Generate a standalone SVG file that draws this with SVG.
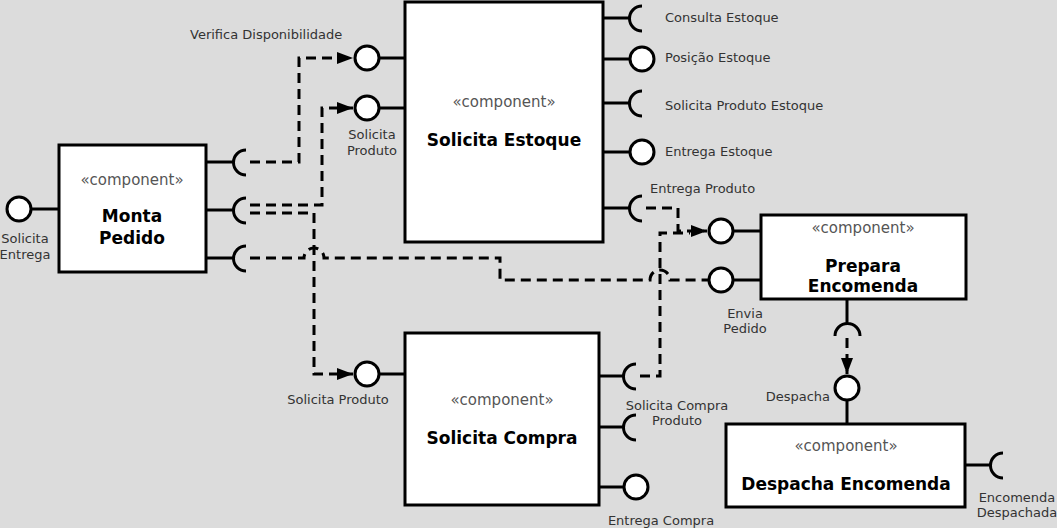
<svg xmlns="http://www.w3.org/2000/svg" width="1057" height="528" viewBox="0 0 1057 528">
<style>
.bg{fill:#dcdcdc}
.box{fill:#fff;stroke:#000;stroke-width:3}
.ln{fill:none;stroke:#000;stroke-width:3}
.lol{fill:#fff;stroke:#000;stroke-width:3}
.dash{fill:none;stroke:#000;stroke-width:3;stroke-dasharray:10 6}
.st{font-family:"DejaVu Sans",Verdana,sans-serif;font-size:15px;fill:#555;text-anchor:middle}
.tt{font-family:"DejaVu Sans",Verdana,sans-serif;font-size:17px;font-weight:bold;fill:#000;text-anchor:middle}
.lb{font-family:"DejaVu Sans",Verdana,sans-serif;font-size:13px;fill:#333}
.c{text-anchor:middle}
</style>
<defs>
<marker id="ah" viewBox="0 0 16 12" refX="16" refY="6" markerWidth="16" markerHeight="12" markerUnits="userSpaceOnUse" orient="auto">
<path d="M0,0 L16,6 L0,12 Z" fill="#000"/>
</marker>
</defs>
<rect class="bg" x="0" y="0" width="1057" height="528"/>

<g id="connectors">
<path class="dash" d="M250,162 H299 V58 H353" marker-end="url(#ah)"/>
<path class="dash" d="M250,205 H322 V108 H353" marker-end="url(#ah)"/>
<path class="dash" d="M250,213 H314 V374 H353" marker-end="url(#ah)"/>
<path class="dash" d="M250,258 H304 A10,10 0 0 1 324,258 H500 V280 H650 A10,10 0 0 1 670,280 H708"/>
<path class="dash" d="M646,208 H678 V231 H707" marker-end="url(#ah)"/>
<path class="dash" d="M640,376 H660 V233 H690"/>
<path class="dash" d="M847,338 V374" marker-end="url(#ah)"/>
</g>

<g id="monta-pedido">
<rect class="box" x="59" y="145" width="147" height="127"/>
<text class="st" x="132" y="185">«component»</text>
<text class="tt" x="132" y="222">Monta</text>
<text class="tt" x="132" y="244">Pedido</text>
<path class="ln" d="M32,209 H59"/>
<circle class="lol" cx="19" cy="209" r="12"/>
<text class="lb c" x="25" y="243">Solicita</text>
<text class="lb c" x="25" y="259">Entrega</text>
<path class="ln" d="M206,162 H233 M246,150 A12.5,12.5 0 0 0 246,175"/>
<path class="ln" d="M206,210 H233 M246,198 A12.5,12.5 0 0 0 246,223"/>
<path class="ln" d="M206,258 H233 M246,246 A12.5,12.5 0 0 0 246,271"/>
</g>

<g id="solicita-estoque">
<rect class="box" x="405" y="2" width="198" height="240"/>
<text class="st" x="504" y="107">«component»</text>
<text class="tt" x="504" y="146">Solicita Estoque</text>
<path class="ln" d="M380,58 H405 M380,108 H405"/>
<circle class="lol" cx="367" cy="58" r="12"/>
<circle class="lol" cx="367" cy="108" r="12"/>
<text class="lb" x="190" y="39">Verifica Disponibilidade</text>
<text class="lb c" x="372" y="139">Solicita</text>
<text class="lb c" x="372" y="155">Produto</text>
<path class="ln" d="M603,18 H630 M642,6 A12.5,12.5 0 0 0 642,31"/>
<path class="ln" d="M603,59 H630"/>
<circle class="lol" cx="642" cy="59" r="12"/>
<path class="ln" d="M603,103 H630 M642,91 A12.5,12.5 0 0 0 642,116"/>
<path class="ln" d="M603,152 H630"/>
<circle class="lol" cx="642" cy="152" r="12"/>
<path class="ln" d="M603,208 H630 M642,196 A12.5,12.5 0 0 0 642,221"/>
<text class="lb" x="665" y="22">Consulta Estoque</text>
<text class="lb" x="665" y="62">Posição Estoque</text>
<text class="lb" x="665" y="110">Solicita Produto Estoque</text>
<text class="lb" x="665" y="156">Entrega Estoque</text>
<text class="lb" x="650" y="193">Entrega Produto</text>
</g>

<g id="solicita-compra">
<rect class="box" x="405" y="333" width="194" height="172"/>
<text class="st" x="502" y="405">«component»</text>
<text class="tt" x="502" y="444">Solicita Compra</text>
<path class="ln" d="M380,374 H405"/>
<circle class="lol" cx="367" cy="374" r="12"/>
<text class="lb c" x="338" y="404">Solicita Produto</text>
<path class="ln" d="M599,376 H624 M636,364 A12.5,12.5 0 0 0 636,389"/>
<path class="ln" d="M599,427 H624 M636,415 A12.5,12.5 0 0 0 636,440"/>
<path class="ln" d="M599,487 H624"/>
<circle class="lol" cx="636" cy="487" r="12"/>
<text class="lb c" x="677" y="410">Solicita Compra</text>
<text class="lb c" x="677" y="425">Produto</text>
<text class="lb c" x="661" y="525">Entrega Compra</text>
</g>

<g id="prepara-encomenda">
<rect class="box" x="761" y="215" width="205" height="84"/>
<text class="st" x="863" y="233">«component»</text>
<text class="tt" x="863" y="272">Prepara</text>
<text class="tt" x="863" y="292">Encomenda</text>
<path class="ln" d="M734,231 H761 M734,280 H761"/>
<circle class="lol" cx="721" cy="231" r="12"/>
<circle class="lol" cx="721" cy="280" r="12"/>
<text class="lb c" x="745" y="318">Envia</text>
<text class="lb c" x="745" y="333">Pedido</text>
<path class="ln" d="M847,299 V323 M835,336 A12.5,12.5 0 0 1 860,336"/>
</g>

<g id="despacha-encomenda">
<rect class="box" x="726" y="424" width="239" height="83"/>
<text class="st" x="846" y="451">«component»</text>
<text class="tt" x="846" y="490">Despacha Encomenda</text>
<path class="ln" d="M847,400 V424"/>
<circle class="lol" cx="847" cy="388" r="12"/>
<text class="lb" x="830" y="401" text-anchor="end">Despacha</text>
<path class="ln" d="M965,465 H991 M1003,453 A12.5,12.5 0 0 0 1003,478"/>
<text class="lb c" x="1017" y="502">Encomenda</text>
<text class="lb c" x="1017" y="517">Despachada</text>
</g>
</svg>
